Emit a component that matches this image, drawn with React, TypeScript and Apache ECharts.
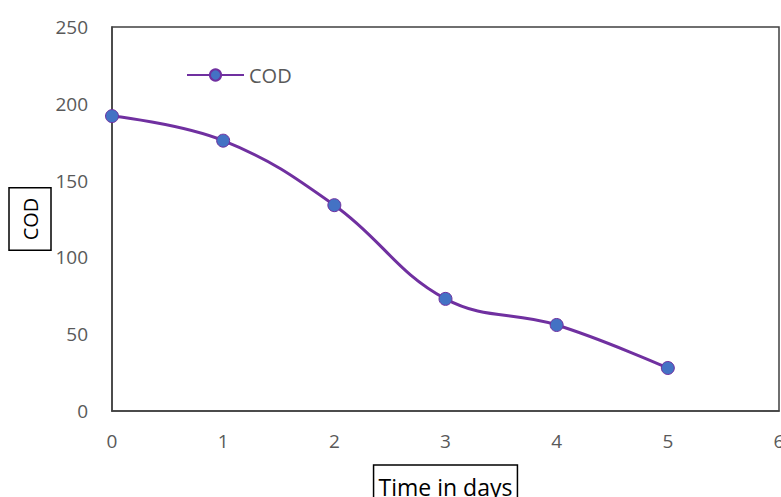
import React, { useEffect, useRef } from "react";
import * as echarts from "echarts";

const days = [0, 1, 2, 3, 4, 5];
const codValues = [192, 176, 134, 73, 56, 28];
const seriesName = "COD";
const xAxisTitle = "Time in days";
const yAxisTitle = "COD";

export default function App() {
  const ref = useRef<HTMLDivElement>(null);
  useEffect(() => {
    if (!ref.current) return;
    const chart = echarts.init(ref.current, null, { renderer: "svg" });
    const font = "'Open Sans', 'Liberation Sans', sans-serif";
    chart.setOption({
      animation: false,
      backgroundColor: "#ffffff",
      grid: {
        left: 112,
        top: 27,
        right: 2,
        bottom: 86,
        show: true,
        borderColor: "#404040",
        borderWidth: 1.5,
        outerBoundsMode: "none",
        containLabel: false,
      },
      legend: {
        show: true,
        left: 181,
        top: 60,
        itemWidth: 57,
        itemHeight: 14,
        itemGap: 5,
        textStyle: { color: "#595959", fontSize: 20, fontFamily: font },
        data: [{ name: seriesName }],
      },
      xAxis: {
        type: "value",
        min: 0,
        max: 6,
        interval: 1,
        name: xAxisTitle,
        nameLocation: "middle",
        nameGap: 54,
        nameTextStyle: {
          color: "#000000",
          fontSize: 23,
          lineHeight: 23,
          fontFamily: font,
          borderColor: "#000000",
          borderWidth: 1.5,
          padding: [10, 5, 10, 5],
        },
        axisLine: { show: true, lineStyle: { color: "#404040", width: 1.5 } },
        axisTick: { show: false },
        splitLine: { show: false },
        axisLabel: { color: "#595959", fontSize: 19, fontFamily: font, margin: 20 },
      },
      yAxis: {
        type: "value",
        min: 0,
        max: 250,
        interval: 50,
        name: yAxisTitle,
        nameLocation: "middle",
        nameGap: 61,
        nameRotate: 90,
        nameMoveOverlap: false,
        nameTextStyle: {
          color: "#000000",
          fontSize: 20,
          lineHeight: 22,
          fontFamily: font,
          borderColor: "#000000",
          borderWidth: 1.5,
          padding: [10, 10, 10, 10],
        },
        axisLine: { show: true, lineStyle: { color: "#404040", width: 1.5 } },
        axisTick: { show: false },
        splitLine: { show: false },
        axisLabel: { color: "#595959", fontSize: 19, fontFamily: font, margin: 24 },
      },
      series: [
        {
          name: seriesName,
          type: "line",
          data: days.map((d, i) => [d, codValues[i]]),
          smooth: 0.4,
          symbol: "circle",
          symbolSize: 13,
          lineStyle: { color: "#7030A0", width: 3 },
          itemStyle: { color: "#4472C4", borderColor: "#7030A0", borderWidth: 1 },
        },
      ],
    });
    return () => chart.dispose();
  }, []);
  return <div ref={ref} style={{ width: 781, height: 497, position: "absolute", left: 0, top: 0 }} />;
}
